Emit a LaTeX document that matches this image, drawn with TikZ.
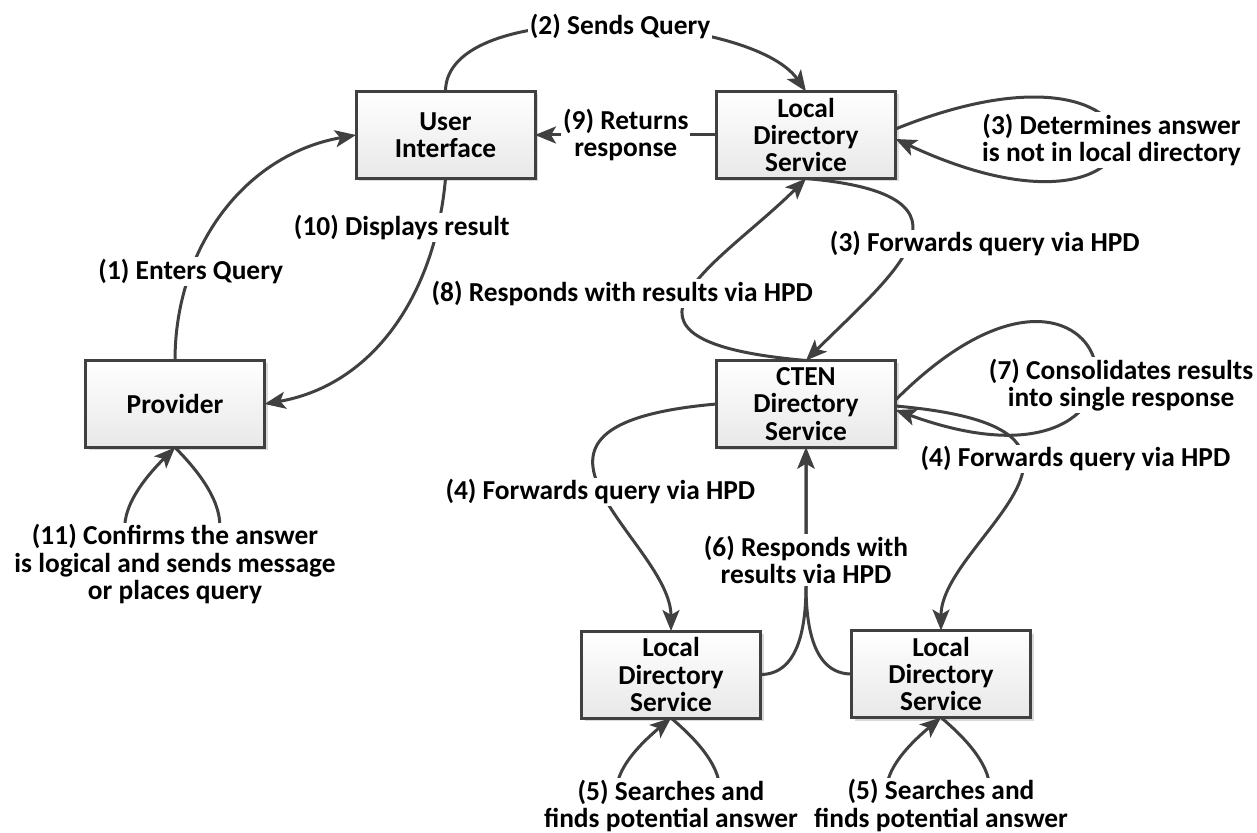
\documentclass[tikz,border=0pt]{standalone}
\usepackage{fontspec}
\setmainfont{Carlito}
\usepackage{tikz}
\usetikzlibrary{arrows.meta, shadows, calc}
\definecolor{linegray}{HTML}{404040}

\begin{document}
\begin{tikzpicture}[x=0.5pt, y=0.5pt,
    font=\fontsize{13.7}{13.6}\selectfont\bfseries,
    box/.style={draw=linegray, line width=1.5pt, top color=white, bottom color=black!9,
      minimum width=89.5pt, minimum height=43.5pt, align=center, inner sep=1pt, outer sep=0pt,
      drop shadow={shadow xshift=1.5pt, shadow yshift=-1.5pt, fill=black!25, opacity=0.6}},
    lbl/.style={fill=white, align=center, inner sep=1pt},
    arr/.style={draw=linegray, line width=1.5pt, -{Stealth[length=10.5pt, width=8.5pt, inset=2.5pt]}}]
  \useasboundingbox (0,0) rectangle (1257,-833);
  % Boxes
  \node[box] (ui) at (445.5,-135) {User\\Interface};
  \node[box] (ldsA) at (806,-135) {Local\\Directory\\Service};
  \node[box] (prov) at (175,-404) {Provider};
  \node[box] (cten) at (806,-404) {CTEN\\Directory\\Service};
  \node[box] (ldsB) at (671,-674.5) {Local\\Directory\\Service};
  \node[box] (ldsC) at (941,-674) {Local\\Directory\\Service};
  \coordinate (m6) at (806,-585);
  % Query going up
  \draw[arr] (prov.north) to[out=90, in=190] node[lbl, pos=0.28] {(1) Enters Query} (ui.west);
  \draw[arr] (ui.north) to[out=90, in=125, out distance=48pt, in distance=48pt] node[lbl, pos=0.53] {(2) Sends Query} (ldsA.north);
  \draw[arr] ([yshift=3pt]ldsA.east) to[out=22, in=-25, distance=160pt] node[lbl, xshift=-2pt] {(3) Determines answer\\is not in local directory} ([yshift=-2pt]ldsA.east);
  \draw[arr] (ldsA.south) to[out=-5, in=45, out distance=95pt, in distance=60pt] node[lbl, xshift=38pt] {(3) Forwards query via HPD} (cten.north);
  % CTEN to local services
  \draw[arr] (cten.west) to[out=185, in=90, out distance=125pt, in distance=45pt] node[lbl] {(4) Forwards query via HPD} (ldsB.north);
  \draw[arr] ([yshift=-1pt]cten.east) to[out=-5, in=90, out distance=130pt, in distance=45pt] node[lbl, pos=0.4, xshift=26pt, yshift=5pt] {(4) Forwards query via HPD} (ldsC.north);
  \draw[arr] (ldsB.south) to[out=-40, in=-140, distance=110pt] node[lbl, yshift=9pt] {(5) Searches and\\finds potential answer} (ldsB.south);
  \draw[arr] (ldsC.south) to[out=-40, in=-140, distance=110pt] node[lbl, yshift=9pt] {(5) Searches and\\finds potential answer} (ldsC.south);
  \draw[arr] (ldsB.east) to[out=0, in=-90] (m6) -- (cten.south);
  \draw[arr] (ldsC.west) to[out=180, in=-90] (m6) -- node[lbl, pos=0.18] {(6) Responds with\\results via HPD} (cten.south);
  \draw[arr] ([yshift=2pt]cten.east) to[out=45, in=-20, distance=160pt] node[lbl, xshift=14pt, yshift=-12pt] {(7) Consolidates results\\into single response} ([yshift=-3pt]cten.east);
  % Answer going back
  \draw[arr] (cten.north) to[out=175, in=-135, out distance=115pt, in distance=60pt] node[lbl, xshift=-33pt] {(8) Responds with results via HPD} (ldsA.south);
  \draw[arr] (ldsA.west) -- node[lbl] {(9) Returns\\response} (ui.east);
  \draw[arr] (ui.south) to[out=-95, in=10] node[lbl, pos=0.15, xshift=-18pt] {(10) Displays result} (prov.east);
  \draw[arr] (prov.south) to[out=-45, in=-135, distance=110pt] node[lbl] {(11) Confirms the answer\\is logical and sends message\\or places query} (prov.south);
\end{tikzpicture}
\end{document}
